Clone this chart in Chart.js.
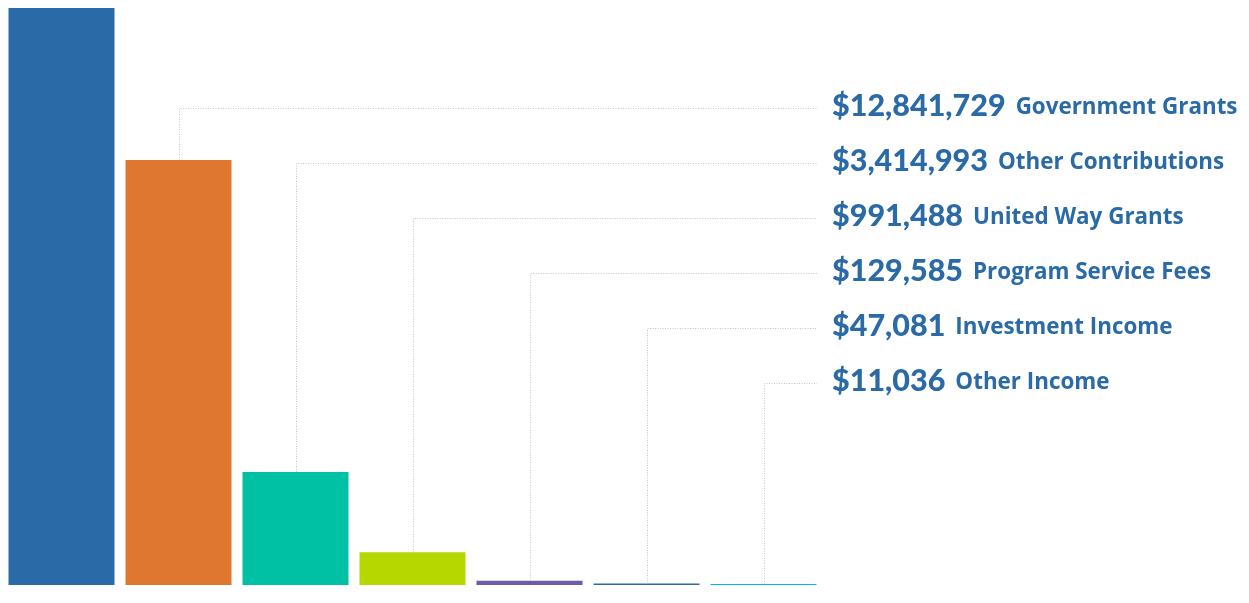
<!DOCTYPE html>
<html>
<head>
<meta charset="utf-8">
<title>Revenue</title>
<script src="https://cdn.jsdelivr.net/npm/chart.js@4/dist/chart.umd.min.js"></script>
<style>
  body { margin: 0; background: #fff; }
  canvas { display: block; }
</style>
</head>
<body>
<canvas id="revenueChart" width="1249" height="603"></canvas>
<script>
// first bar is the total of all the others
const categories = ['Total', 'Government Grants', 'Other Contributions', 'United Way Grants',
    'Program Service Fees', 'Investment Income', 'Other Income'];
const amounts = [17435912, 12841729, 3414993, 991488, 129585, 47081, 11036];
const amountLabels = ['$17,435,912', '$12,841,729', '$3,414,993', '$991,488',
    '$129,585', '$47,081', '$11,036'];
const barColors = ['#2a6aa6', '#e07730', '#00c1a4', '#b6d800', '#6f5ca9', '#2a6aa6', '#00b6ef'];

const textBlue = '#2a6aa6';

// dotted leader lines + the labels on the right
const leaderLabels = {
    id: 'leaderLabels',
    afterDatasetsDraw(chart) {
        const ctx = chart.ctx;
        const bars = chart.getDatasetMeta(0).data;
        const textX = 832;
        const lineEnd = 817;
        ctx.save();
        for (let i = 1; i < bars.length; i++) {
            const rowY = 108 + (i - 1) * 55;
            const bx = Math.round(bars[i].x) + 0.5;

            ctx.strokeStyle = '#c6c6c6';
            ctx.lineWidth = 1;
            ctx.setLineDash([1, 1.5]);
            ctx.beginPath();
            ctx.moveTo(bx, bars[i].y);
            ctx.lineTo(bx, rowY + 0.5);
            ctx.lineTo(lineEnd, rowY + 0.5);
            ctx.stroke();

            ctx.setLineDash([]);
            ctx.fillStyle = textBlue;
            ctx.textBaseline = 'alphabetic';
            ctx.font = '900 30.5px Lato';
            ctx.fillText(amountLabels[i], textX, rowY + 8);
            const w = ctx.measureText(amountLabels[i]).width;
            ctx.font = '700 22.4px "Open Sans"';
            ctx.fillText(categories[i], textX + w + 10, rowY + 6);
        }
        ctx.restore();
    }
};

new Chart(document.getElementById('revenueChart'), {
    type: 'bar',
    data: {
        labels: categories,
        datasets: [{
            data: amounts,
            backgroundColor: barColors,
            borderWidth: 0,
            barPercentage: 0.906,
            categoryPercentage: 1,
            minBarLength: 1
        }]
    },
    options: {
        responsive: false,
        animation: false,
        layout: { padding: { left: 3, right: 427, top: 8, bottom: 18 } },
        plugins: { legend: { display: false }, tooltip: { enabled: false } },
        scales: {
            x: { display: false },
            y: { display: false, min: 0, max: amounts[0] }
        }
    },
    plugins: [leaderLabels]
});
</script>
</body>
</html>
